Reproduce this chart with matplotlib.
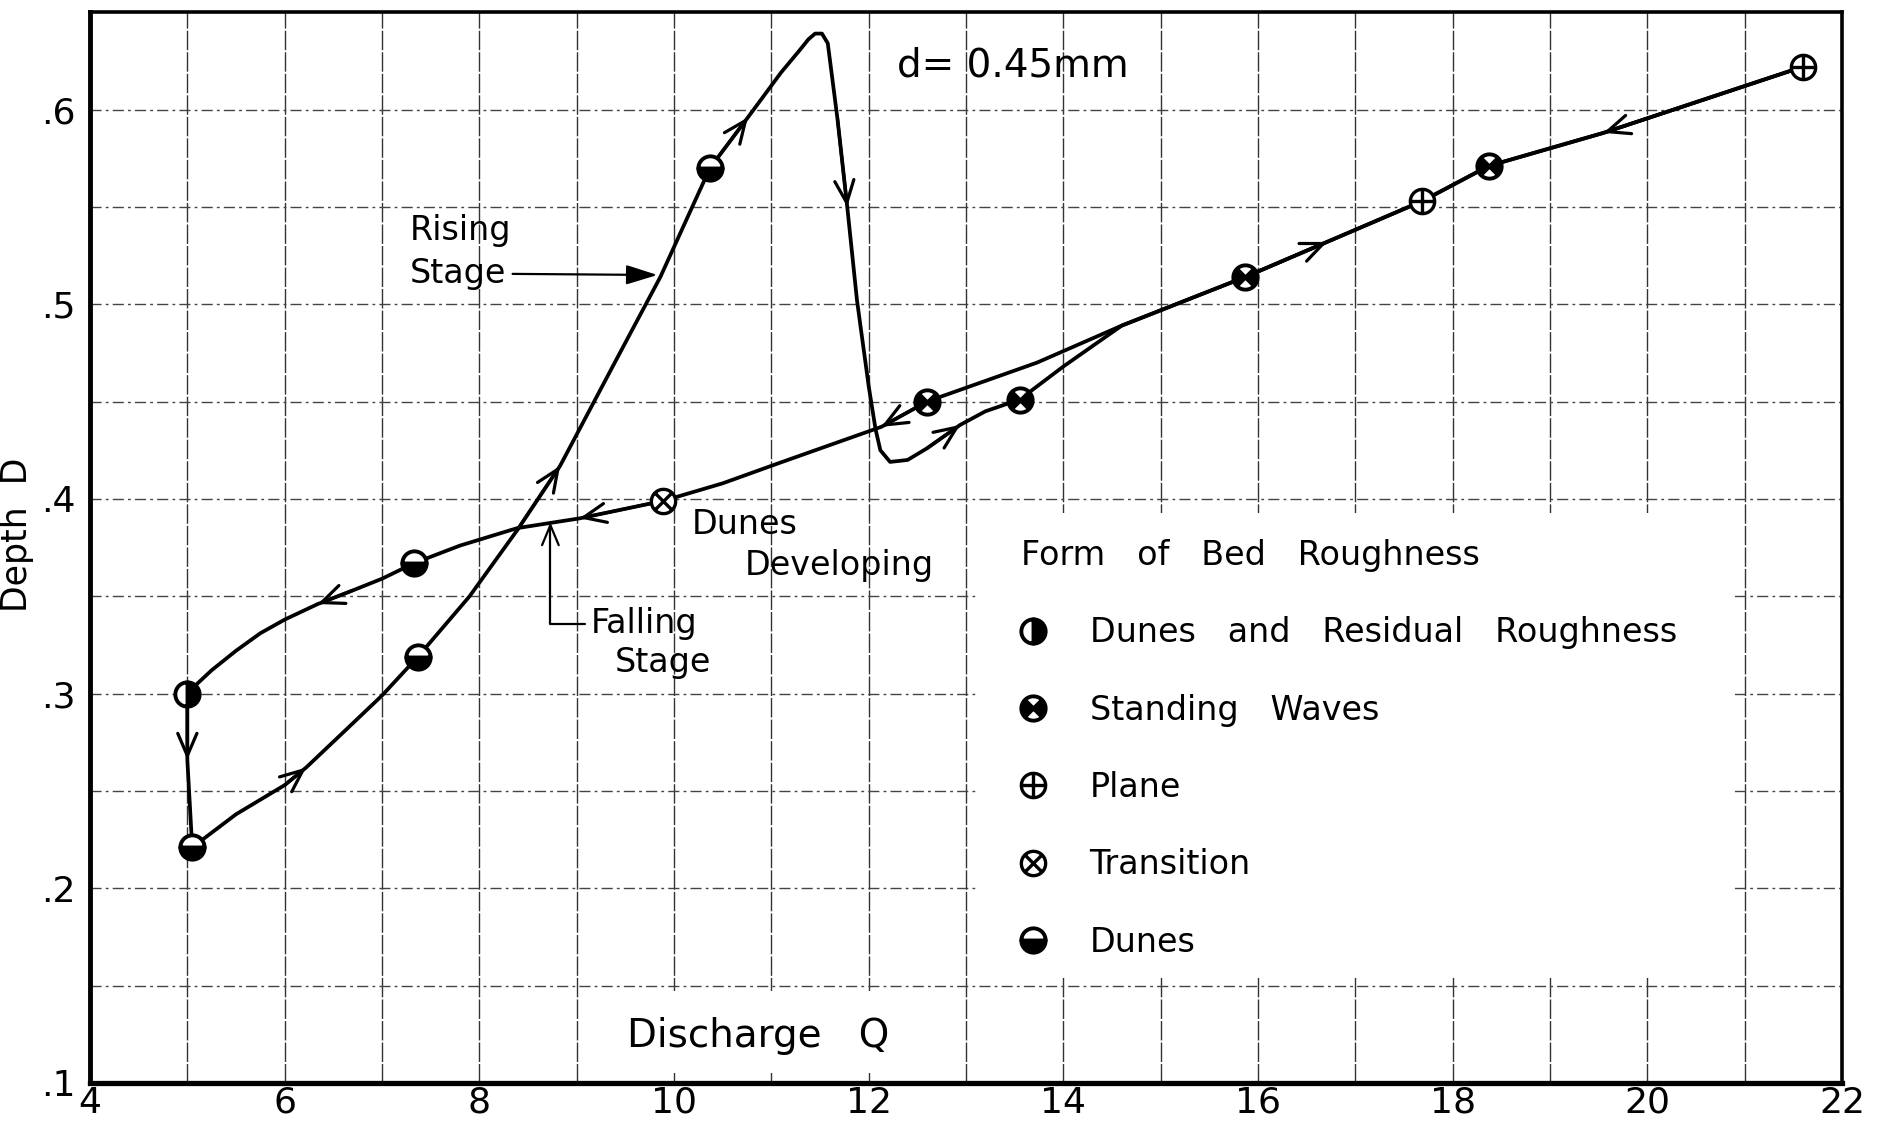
import numpy as np
import matplotlib
matplotlib.use('Agg')
import matplotlib.pyplot as plt
from matplotlib.path import Path
from matplotlib.lines import Line2D
from matplotlib.patches import Rectangle

plt.rcParams['font.family'] = ['DejaVu Sans']

# ---- data (discharge Q, depth D) ----
# rising stage
rise_q = [5.05, 5.5, 6.0, 6.22, 6.6, 7.0, 7.37, 7.9, 8.39, 8.83, 9.37, 9.86, 10.37, 10.76,
          11.1, 11.3, 11.38, 11.45, 11.52, 11.58, 11.68, 11.78, 11.88, 12.0, 12.07, 12.12,
          12.22, 12.4, 12.6, 12.94, 13.2, 13.55, 14.0, 14.6, 15.87, 16.71, 17.69, 18.37,
          19.55, 21.6]
rise_d = [0.221, 0.238, 0.253, 0.262, 0.280, 0.299, 0.319, 0.350, 0.384, 0.417, 0.468, 0.514,
          0.570, 0.596, 0.619, 0.631, 0.636, 0.639, 0.639, 0.634, 0.595, 0.550, 0.502, 0.458,
          0.436, 0.425, 0.419, 0.420, 0.426, 0.438, 0.445, 0.451, 0.468, 0.489, 0.514, 0.532,
          0.553, 0.571, 0.588, 0.622]
rise_arrows = [3, 9, 13, 21, 29, 35]   # vertices carrying an arrow head

# falling stage
fall_q = [21.6, 19.55, 18.37, 17.69, 15.87, 14.6, 13.73, 12.6, 12.13, 11.09, 10.5, 9.89, 9.03,
          8.39, 7.8, 7.33, 7.0, 6.7, 6.34, 6.0, 5.75, 5.5, 5.25, 5.1, 5.0, 5.0, 5.05]
fall_d = [0.622, 0.588, 0.571, 0.553, 0.514, 0.489, 0.470, 0.450, 0.437, 0.4186, 0.408, 0.399,
          0.390, 0.385, 0.376, 0.367, 0.359, 0.353, 0.346, 0.338, 0.331, 0.322, 0.312, 0.305,
          0.300, 0.266, 0.221]
fall_arrows = [1, 8, 12, 18, 25]

# observed points and their bed form
obs_q = [5.0, 5.05, 7.37, 10.37, 9.89, 7.33, 12.6, 13.55, 15.87, 17.69, 18.37, 21.6]
obs_d = [0.300, 0.221, 0.319, 0.570, 0.399, 0.367, 0.450, 0.451, 0.514, 0.553, 0.571, 0.622]
obs_form = ['residual', 'dunes', 'dunes', 'dunes', 'transition', 'dunes', 'standing',
            'standing', 'standing', 'plane', 'standing', 'plane']

legend_forms = ['residual', 'standing', 'plane', 'transition', 'dunes']
legend_labels = ['Dunes   and   Residual   Roughness', 'Standing   Waves', 'Plane',
                 'Transition', 'Dunes']

x_ticks = [4, 6, 8, 10, 12, 14, 16, 18, 20, 22]
x_tick_labels = ['4', '6', '8', '10', '12', '14', '16', '18', '20', '22']
y_ticks = [0.1, 0.2, 0.3, 0.4, 0.5, 0.6]
y_tick_labels = ['.1', '.2', '.3', '.4', '.5', '.6']


# ---- marker shapes ----
t = np.linspace(0, 2 * np.pi, 65)
circ = np.column_stack([np.cos(t), np.sin(t)])
circ_codes = [Path.MOVETO] + [Path.LINETO] * 63 + [Path.CLOSEPOLY]
s = np.sqrt(0.5)
circ_x = Path(np.vstack([circ, [(-s, -s), (s, s), (-s, s), (s, -s)]]),
              circ_codes + [Path.MOVETO, Path.LINETO, Path.MOVETO, Path.LINETO])
circ_plus = Path(np.vstack([circ, [(-1, 0), (1, 0), (0, -1), (0, 1)]]),
                 circ_codes + [Path.MOVETO, Path.LINETO, Path.MOVETO, Path.LINETO])


def wedge(a0, a1):
    a = np.radians(np.linspace(a0, a1, 20))
    v = np.vstack([[(0, 0)], np.column_stack([np.cos(a), np.sin(a)]), [(0, 0)]])
    c = [Path.MOVETO] + [Path.LINETO] * 20 + [Path.CLOSEPOLY]
    return v, c


v1, c1 = wedge(135, 225)
v2, c2 = wedge(-45, 45)
side_wedges = Path(np.vstack([v1, v2]), c1 + c2)


def marker_layers(form):
    base = dict(ls='none', ms=17.5, mec='k', mew=2.8)
    if form == 'dunes':
        return [dict(base, marker='o', fillstyle='bottom', mfc='k', markerfacecoloralt='w')]
    if form == 'residual':
        return [dict(base, marker='o', fillstyle='right', mfc='k', markerfacecoloralt='w')]
    if form == 'transition':
        return [dict(base, marker=circ_x, mfc='w', mew=2.4)]
    if form == 'plane':
        return [dict(base, marker=circ_plus, mfc='w', mew=2.4)]
    return [dict(base, marker=circ_x, mfc='w'), dict(base, marker=side_wedges, mfc='k', mew=1)]


fig = plt.figure(figsize=(18.79, 11.26), dpi=100)
ax = fig.add_axes([0.0479, 0.0382, 0.9324, 0.951])
ax.set_axisbelow(True)

ax.set_xlim(4, 22)
ax.set_ylim(0.1, 0.65)
ax.set_xticks(x_ticks)
ax.set_xticklabels(x_tick_labels)
ax.set_xticks(np.arange(5, 22, 2), minor=True)
ax.set_yticks(y_ticks)
ax.set_yticklabels(y_tick_labels)
ax.set_yticks(np.arange(0.15, 0.6, 0.1), minor=True)
ax.tick_params(which='both', length=0)
ax.tick_params(axis='x', labelsize=26, pad=2)
ax.tick_params(axis='y', labelsize=26, pad=10)

ax.xaxis.grid(True, which='both', color='#333333', lw=1.0, ls=(0, (14, 1.5)))
ax.yaxis.grid(True, which='both', color='#444444', lw=1.0, ls=(0, (8, 3, 2, 3)))

for side, w in [('left', 3.5), ('bottom', 3.8), ('top', 2.6), ('right', 2.6)]:
    ax.spines[side].set_linewidth(w)

# blank areas where the grid is left out
ax.add_patch(Rectangle((13.13, 0.155), 7.74, 0.238, fc='white', ec='none', zorder=1))
ax.add_patch(Rectangle((9.15, 0.105), 3.7, 0.0425, fc='white', ec='none', zorder=1))

# curves
ax.plot(rise_q, rise_d, color='k', lw=2.7, solid_joinstyle='round', zorder=3)
ax.plot(fall_q, fall_d, color='k', lw=2.7, solid_joinstyle='round', zorder=3)

for q, d, idx in [(rise_q, rise_d, rise_arrows), (fall_q, fall_d, fall_arrows)]:
    for i in idx:
        ax.annotate('', xy=(q[i], d[i]), xytext=(q[i - 1], d[i - 1]),
                    arrowprops=dict(arrowstyle='->,head_length=0.7,head_width=0.3',
                                    color='k', lw=2.3, shrinkA=0, shrinkB=0,
                                    mutation_scale=23), zorder=3)

# observed points
for form in set(obs_form):
    sel = [i for i, f in enumerate(obs_form) if f == form]
    for layer in marker_layers(form):
        ax.plot([obs_q[i] for i in sel], [obs_d[i] for i in sel], zorder=4, **layer)

# legend
handles = []
for form in legend_forms:
    hs = tuple(Line2D([], [], **layer) for layer in marker_layers(form))
    handles.append(hs)
leg = ax.legend(handles, legend_labels, title='Form   of   Bed   Roughness',
                loc='upper left', bbox_to_anchor=(0.5315, 0.508), frameon=False,
                alignment='left', fontsize=24, title_fontsize=24, handlelength=0.7,
                handletextpad=1.35, labelspacing=1.33, borderpad=0, borderaxespad=0)
leg.set_zorder(5)

# labels and notes
ax.text(12.29, 0.6228, 'd= 0.45mm', fontsize=28, va='center', ha='left')
ax.text(7.28, 0.5378, 'Rising', fontsize=24, va='center', ha='left')
ax.annotate('Stage', xy=(9.83, 0.515), xytext=(7.28, 0.5156), fontsize=24,
            va='center', ha='left',
            arrowprops=dict(arrowstyle='-|>,head_length=0.8,head_width=0.25', color='k',
                            lw=1.6, relpos=(1, 0.5), shrinkA=3, shrinkB=0))
ax.text(10.18, 0.387, 'Dunes', fontsize=24, va='center', ha='left')
ax.text(10.73, 0.366, 'Developing', fontsize=24, va='center', ha='left')
ax.annotate('Falling', xy=(8.73, 0.388), xytext=(9.146, 0.3358), fontsize=24,
            va='center', ha='left',
            arrowprops=dict(arrowstyle='->,head_length=0.6,head_width=0.25', color='k',
                            lw=1.6, relpos=(0, 0.5), shrinkA=2, shrinkB=0,
                            connectionstyle='angle,angleA=0,angleB=90,rad=0'))
ax.text(9.39, 0.316, 'Stage', fontsize=24, va='center', ha='left')
ax.text(10.86, 0.124, 'Discharge   Q', fontsize=28, va='center', ha='center')

ax.set_ylabel('Depth  D', fontsize=25)
ax.yaxis.set_label_coords(-0.032, 0.512)

fig.savefig('out.png', dpi=100)
